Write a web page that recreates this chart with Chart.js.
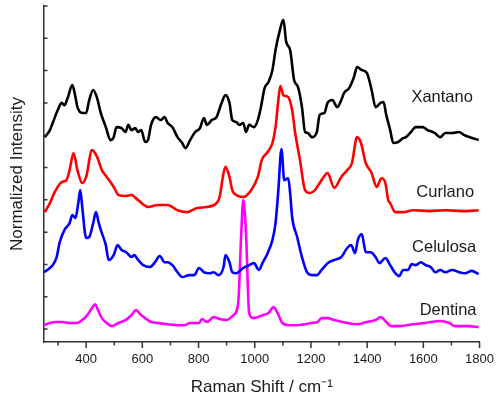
<!DOCTYPE html>
<html>
<head>
<meta charset="utf-8">
<script src="https://cdn.jsdelivr.net/npm/chart.js@4"></script>
<style>
  html, body { margin: 0; padding: 0; background: #fff; }
</style>
</head>
<body>
<canvas id="myChart" width="504" height="398"></canvas>
<script>
// Raman spectra (stacked, normalized)
const xantanoShift = [253,271,281,299,313,323,334,351,362,369,386,400,411,425,439,452,470,487,498,508,526,540,550,561,575,585,596,610,620,631,648,665,679,690,707,725,742,753,770,788,805,819,830,847,864,882,896,910,920,934,945,959,969,980,997,1011,1022,1035,1049,1063,1074,1088,1102,1112,1126,1140,1154,1168,1179,1189,1203,1221,1231,1248,1259,1276,1294,1308,1318,1336,1353,1364,1381,1399,1416,1430,1448,1458,1468,1482,1493,1510,1528,1538,1556,1573,1598,1615,1640,1660,1678,1703,1727,1744,1765,1797];
const xantanoInt = [5.94,6.16,6.38,6.78,7.00,6.93,7.15,7.55,7.18,6.87,6.69,6.69,7.09,7.40,7.15,6.69,6.25,5.85,5.94,6.25,6.22,6.10,6.32,6.16,6.22,6.10,6.16,5.79,5.85,6.32,6.56,6.47,6.56,6.38,6.25,5.94,5.76,5.60,5.85,6.10,6.22,6.53,6.32,6.47,6.56,7.00,7.24,7.00,6.47,6.41,6.32,6.38,6.10,6.32,6.25,6.47,6.87,7.46,7.65,8.02,8.64,9.20,9.57,8.89,8.64,7.71,7.49,6.87,6.10,6.07,5.94,6.10,6.63,6.69,7.00,7.09,6.87,7.09,7.31,7.46,7.80,8.11,8.02,7.93,7.40,6.87,7.00,7.03,6.63,6.16,5.76,5.79,5.91,5.94,6.10,6.25,6.25,6.16,6.07,5.94,6.07,6.07,6.10,6.01,5.94,5.85];

const curlanoShift = [253,271,288,313,330,341,355,369,386,400,421,439,456,473,498,515,540,561,585,620,655,690,725,760,795,830,864,875,889,896,910,920,934,959,987,1011,1025,1046,1063,1074,1084,1091,1102,1119,1133,1144,1161,1179,1196,1214,1238,1259,1283,1308,1329,1346,1364,1378,1395,1416,1434,1451,1465,1475,1482,1500,1528,1563,1622,1678,1737,1797];
const curlanoInt = [3.62,3.90,4.24,4.55,4.61,4.92,5.45,4.92,4.52,4.71,5.54,5.33,4.92,4.71,4.40,4.15,4.12,4.15,3.99,3.78,3.84,3.84,3.68,3.62,3.75,3.78,3.90,4.09,4.83,5.02,4.71,4.30,4.15,4.09,4.30,4.71,5.23,5.48,5.76,6.25,7.09,7.52,7.24,7.18,6.78,6.07,5.23,4.30,4.21,4.30,4.61,4.83,4.37,4.71,4.92,5.14,5.94,5.76,5.14,4.83,4.40,4.67,4.52,3.99,3.90,3.62,3.62,3.68,3.65,3.68,3.65,3.68];

const celulosaShift = [250,271,281,295,306,323,341,351,362,372,379,386,400,411,425,435,445,456,470,480,498,512,526,543,561,571,585,603,627,645,662,679,690,707,725,742,767,784,802,819,840,854,871,889,896,910,920,934,959,980,997,1015,1029,1046,1063,1074,1084,1095,1105,1119,1126,1133,1151,1168,1186,1203,1221,1238,1259,1283,1308,1329,1343,1357,1367,1381,1395,1413,1430,1444,1465,1482,1500,1514,1528,1545,1559,1573,1591,1608,1626,1643,1660,1678,1703,1727,1748,1772,1797];
const celulosaInt = [1.76,1.89,1.98,2.23,2.69,3.07,3.28,3.53,3.44,3.90,4.30,3.78,2.82,2.85,3.28,3.62,3.28,2.97,2.60,2.14,2.29,2.60,2.45,2.38,2.23,2.29,2.14,1.98,1.92,2.07,2.26,2.07,2.07,1.98,1.76,1.61,1.67,1.67,1.89,1.76,1.73,1.76,1.67,1.92,2.29,2.07,1.76,1.73,1.89,1.98,2.04,1.83,2.07,2.35,2.76,3.28,4.30,5.57,4.61,4.67,4.21,3.47,2.85,2.23,1.76,1.67,1.67,1.83,2.04,2.14,2.23,2.51,2.60,2.35,2.76,2.94,2.38,2.38,2.23,2.04,2.20,1.98,1.73,1.64,1.83,1.83,2.01,1.98,2.07,1.98,1.92,1.76,1.83,1.76,1.83,1.76,1.73,1.80,1.70];

const dentinaShift = [250,271,295,316,341,369,386,404,421,432,439,456,473,491,515,540,561,578,592,610,631,655,690,725,749,770,802,812,830,854,875,899,924,941,952,959,969,980,994,1011,1029,1049,1067,1081,1098,1119,1144,1179,1203,1224,1238,1259,1283,1329,1364,1399,1430,1448,1465,1486,1517,1563,1608,1660,1692,1713,1762,1797];
const dentinaInt = [0.12,0.19,0.22,0.22,0.19,0.19,0.28,0.43,0.65,0.77,0.65,0.34,0.19,0.09,0.19,0.28,0.43,0.59,0.46,0.34,0.22,0.19,0.15,0.12,0.12,0.19,0.19,0.31,0.22,0.37,0.31,0.28,0.43,0.80,2.97,3.99,2.97,0.50,0.34,0.37,0.43,0.50,0.68,0.50,0.19,0.12,0.12,0.15,0.19,0.22,0.34,0.34,0.28,0.19,0.15,0.22,0.28,0.37,0.25,0.09,0.09,0.15,0.19,0.25,0.19,0.09,0.09,0.06];

const seriesNames = ['Xantano', 'Curlano', 'Celulosa', 'Dentina'];
const xTicks = [400, 600, 800, 1000, 1200, 1400, 1600, 1800];
const xMinorTicks = [300, 500, 700, 900, 1100, 1300, 1500, 1700];
const yTicks = [0, 1, 2, 3, 4, 5, 6, 7, 8, 9, 10];

const FONT = '"Liberation Sans", Arial, sans-serif';
const axisColor = '#333';
const textColor = '#1a1a1a';

const toPoints = (xs, ys) => xs.map((x, i) => ({ x: x, y: ys[i] }));

// tick marks: x outward (major/minor), y inward
const axisTicks = {
  id: 'axisTicks',
  afterDraw(chart) {
    const { ctx, chartArea, scales: { x, y } } = chart;
    ctx.save();
    ctx.strokeStyle = axisColor;
    ctx.lineWidth = 1.5;
    ctx.beginPath();
    xTicks.forEach(v => {
      const px = x.getPixelForValue(v);
      ctx.moveTo(px, chartArea.bottom);
      ctx.lineTo(px, chartArea.bottom + 6);
    });
    xMinorTicks.forEach(v => {
      const px = x.getPixelForValue(v);
      ctx.moveTo(px, chartArea.bottom);
      ctx.lineTo(px, chartArea.bottom + 3.5);
    });
    yTicks.forEach(v => {
      const py = y.getPixelForValue(v);
      ctx.moveTo(chartArea.left, py);
      ctx.lineTo(chartArea.left + 3.5, py);
    });
    ctx.stroke();
    ctx.restore();
  }
};

// series names placed next to each trace
const seriesLabels = {
  id: 'seriesLabels',
  afterDatasetsDraw(chart, args, opts) {
    const { ctx, scales: { x, y } } = chart;
    ctx.save();
    ctx.font = '16.5px ' + FONT;
    ctx.fillStyle = textColor;
    ctx.textAlign = 'center';
    ctx.textBaseline = 'middle';
    opts.anchors.forEach((a, i) => {
      ctx.fillText(seriesNames[i], x.getPixelForValue(a[0]), y.getPixelForValue(a[1]));
    });
    ctx.restore();
  }
};

const ctx = document.getElementById('myChart').getContext('2d');
new Chart(ctx, {
  type: 'line',
  data: {
    datasets: [
      { label: seriesNames[0], data: toPoints(xantanoShift, xantanoInt), borderColor: '#000000' },
      { label: seriesNames[1], data: toPoints(curlanoShift, curlanoInt), borderColor: '#ff0000' },
      { label: seriesNames[2], data: toPoints(celulosaShift, celulosaInt), borderColor: '#0000ff' },
      { label: seriesNames[3], data: toPoints(dentinaShift, dentinaInt), borderColor: '#ff00ff' }
    ]
  },
  options: {
    responsive: false,
    animation: false,
    layout: { padding: { top: 6, right: 16, left: 0, bottom: 0 } },
    elements: {
      point: { radius: 0 },
      line: { borderWidth: 2.6, cubicInterpolationMode: 'monotone', fill: false }
    },
    plugins: {
      legend: { display: false },
      tooltip: { enabled: false },
      seriesLabels: { anchors: [[1667, 7.17], [1678, 4.24], [1674, 2.52], [1688, 0.57]] }
    },
    scales: {
      x: {
        type: 'linear',
        min: 250,
        max: 1800,
        afterBuildTicks: s => { s.ticks = xTicks.map(v => ({ value: v })); },
        afterFit: s => { s.height = 56; },
        grid: { display: false, drawTicks: false },
        border: { display: true, color: axisColor, width: 1.5 },
        ticks: { padding: 10, color: textColor, font: { family: FONT, size: 13 }, maxRotation: 0, autoSkip: false, callback: v => String(v) },
        title: { display: true, text: 'Raman Shift / cm\u207B\u00B9', color: textColor, font: { family: FONT, size: 17 }, padding: { top: 0, bottom: 0 } }
      },
      y: {
        min: -0.4,
        max: 10,
        afterBuildTicks: s => { s.ticks = yTicks.map(v => ({ value: v })); },
        afterFit: s => { s.width = 44; },
        grid: { display: false, drawTicks: false },
        border: { display: true, color: axisColor, width: 1.5 },
        ticks: { display: false },
        title: { display: true, text: 'Normalized Intensity', color: textColor, font: { family: FONT, size: 17 }, padding: { top: 7, bottom: 0 } }
      }
    }
  },
  plugins: [axisTicks, seriesLabels]
});
</script>
</body>
</html>
